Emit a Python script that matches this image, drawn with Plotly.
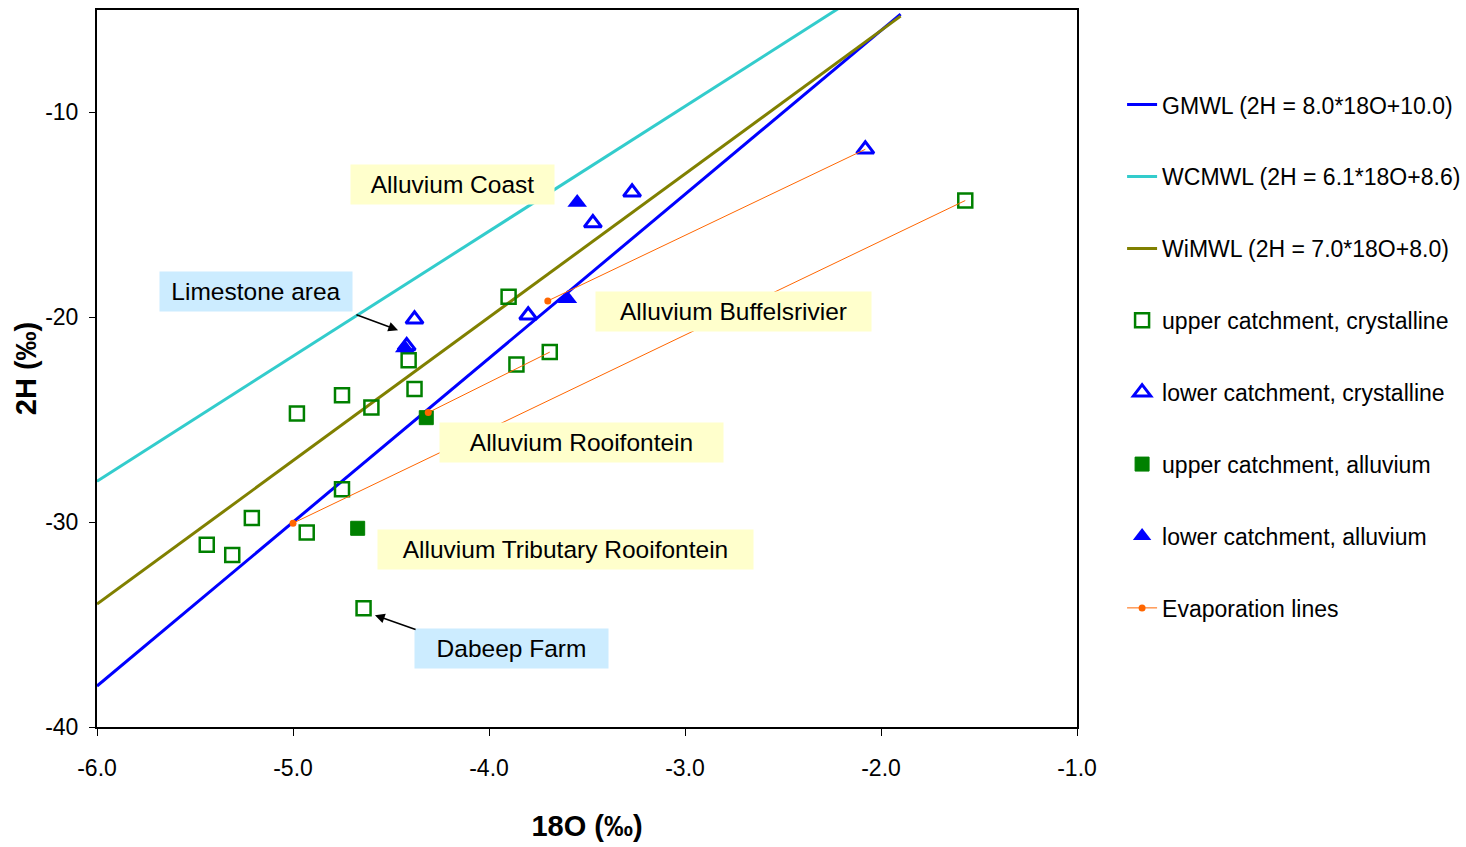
import plotly.graph_objects as go

# Meteoric water lines: 2H = slope * 18O + intercept
mwl_names = ["GMWL (2H = 8.0*18O+10.0)", "WCMWL (2H = 6.1*18O+8.6)", "WiMWL (2H = 7.0*18O+8.0)"]
mwl_slope = [8.0, 6.1, 7.0]
mwl_intercept = [10.0, 8.6, 8.0]
mwl_colors = ["#0000FF", "#33CCCC", "#808000"]
mwl_x = [-6.0, -1.9]

# Sample groups (18O, 2H in permil)
upper_cryst_o18 = [-4.98, -4.75, -4.60, -4.75, -5.21, -5.44, -5.31, -4.93, -4.64,
                   -4.41, -4.38, -3.90, -3.86, -3.69, -1.57]
upper_cryst_h2 = [-24.7, -23.8, -24.4, -28.4, -29.8, -31.1, -31.6, -30.5, -34.2,
                  -22.1, -23.5, -19.0, -22.3, -21.7, -14.3]

lower_cryst_o18 = [-4.38, -4.42, -3.80, -3.47, -3.27, -2.08]
lower_cryst_h2 = [-20.1, -21.4, -19.9, -15.4, -13.9, -11.8]

upper_allu_o18 = [-4.32, -4.67]
upper_allu_h2 = [-24.9, -30.3]

lower_allu_o18 = [-3.55, -3.60, -4.43]
lower_allu_h2 = [-14.4, -19.1, -21.5]

# Evaporation lines: start point -> end point
evap_x0 = [-5.00, -4.31, -3.70]
evap_y0 = [-30.05, -24.65, -19.2]
evap_x1 = [-1.57, -3.69, -2.08]
evap_y1 = [-14.3, -21.7, -11.8]

x_ticks = [-6.0, -5.0, -4.0, -3.0, -2.0, -1.0]
x_tick_text = ["-6.0", "-5.0", "-4.0", "-3.0", "-2.0", "-1.0"]
y_ticks = [-10, -20, -30, -40]
y_tick_text = ["-10", "-20", "-30", "-40"]

FONT = "Liberation Sans, Arial, sans-serif"
ORANGE = "#FF6600"
GREEN = "#008000"
BLUE = "#0000FF"

fig = go.Figure()

for i, (name, m, b, c) in enumerate(zip(mwl_names, mwl_slope, mwl_intercept, mwl_colors)):
    fig.add_trace(go.Scatter(
        x=mwl_x, y=[m * x + b for x in mwl_x], mode="lines", name=name,
        line=dict(color=c, width=3), legendgroup=f"g{i}", legendrank=i + 1,
    ))

fig.add_trace(go.Scatter(
    x=upper_cryst_o18, y=upper_cryst_h2, mode="markers",
    name="upper catchment, crystalline", legendgroup="g3", legendrank=4,
    marker=dict(symbol="square-open", size=14, color=GREEN, line=dict(width=2.5, color=GREEN)),
))
fig.add_trace(go.Scatter(
    x=lower_cryst_o18, y=lower_cryst_h2, mode="markers",
    name="lower catchment, crystalline", legendgroup="g4", legendrank=5,
    marker=dict(symbol="triangle-up-open", size=15, color=BLUE, line=dict(width=3, color=BLUE)),
))
fig.add_trace(go.Scatter(
    x=upper_allu_o18, y=upper_allu_h2, mode="markers",
    name="upper catchment, alluvium", legendgroup="g5", legendrank=6,
    marker=dict(symbol="square", size=14, color=GREEN, line=dict(width=1, color=GREEN)),
))
fig.add_trace(go.Scatter(
    x=lower_allu_o18, y=lower_allu_h2, mode="markers",
    name="lower catchment, alluvium", legendgroup="g6", legendrank=7,
    marker=dict(symbol="triangle-up", size=17, color=BLUE),
))

# Evaporation lines drawn as segments with a dot at the starting point
for k, (xa, ya, xb, yb) in enumerate(zip(evap_x0, evap_y0, evap_x1, evap_y1)):
    fig.add_trace(go.Scatter(
        x=[xa, xb], y=[ya, yb], mode="lines", showlegend=False,
        line=dict(color=ORANGE, width=1), legendgroup="g7",
    ))
fig.add_trace(go.Scatter(
    x=evap_x0, y=evap_y0, mode="markers", showlegend=False, legendgroup="g7",
    marker=dict(symbol="circle", size=7, color=ORANGE),
))
fig.add_trace(go.Scatter(
    x=[None], y=[None], mode="lines+markers", name="Evaporation lines",
    legendgroup="g7", legendrank=8,
    line=dict(color=ORANGE, width=1), marker=dict(symbol="circle", size=7, color=ORANGE),
))

YELLOW_BG = "#FFFFCC"
BLUE_BG = "#CCECFF"

labels = [
    ("Alluvium Coast", -4.184, -13.51, 203, YELLOW_BG),
    ("Limestone area", -5.189, -18.73, 192, BLUE_BG),
    ("Alluvium Buffelsrivier", -2.755, -19.71, 275, YELLOW_BG),
    ("Alluvium Rooifontein", -3.526, -26.10, 283, YELLOW_BG),
    ("Alluvium Tributary Rooifontein", -3.612, -31.32, 375, YELLOW_BG),
    ("Dabeep Farm", -3.883, -36.15, 193, BLUE_BG),
]
for text, x, y, w, bg in labels:
    fig.add_annotation(
        x=x, y=y, xref="x", yref="y", text=text, showarrow=False,
        bgcolor=bg, width=w, height=39, borderpad=0,
        font=dict(family=FONT, size=24.5, color="black"),
    )

# Pointer arrows
arrows = [(-4.464, -20.63, -4.684, -19.85), (-4.582, -34.54, -4.367, -35.27)]
for hx, hy, tx, ty in arrows:
    fig.add_annotation(
        x=hx, y=hy, ax=tx, ay=ty, xref="x", yref="y", axref="x", ayref="y",
        text="", showarrow=True, arrowhead=2, arrowsize=1.3, arrowwidth=1.5,
        arrowcolor="black", standoff=0,
    )

fig.update_layout(
    width=1466, height=847,
    margin=dict(l=97, r=389, t=10, b=120, autoexpand=False),
    paper_bgcolor="white", plot_bgcolor="white",
    font=dict(family=FONT, size=22, color="black"),
    legend=dict(
        x=1.046, y=0.898, xanchor="left", yanchor="top",
        traceorder="grouped", tracegroupgap=39,
        font=dict(family=FONT, size=23, color="black"),
        bgcolor="rgba(0,0,0,0)",
    ),
    xaxis=dict(
        range=[-6.0, -1.0], tickvals=x_ticks, ticktext=x_tick_text,
        showgrid=False, zeroline=False,
        showline=True, mirror=True, linecolor="black", linewidth=2,
        ticks="outside", ticklen=7, tickcolor="black", tickwidth=1,
        tickfont=dict(family=FONT, size=23),
        ticklabelstandoff=12,
        title=dict(text="<b>18O (‰)</b>", font=dict(family=FONT, size=29), standoff=36),
    ),
    yaxis=dict(
        range=[-40, -5], tickvals=y_ticks, ticktext=y_tick_text,
        showgrid=False, zeroline=False,
        showline=True, mirror=True, linecolor="black", linewidth=2,
        ticks="outside", ticklen=6, tickcolor="black", tickwidth=1,
        tickfont=dict(family=FONT, size=23),
        ticklabelstandoff=6,
        title=dict(text="<b>2H (‰)</b>", font=dict(family=FONT, size=29), standoff=0),
    ),
)

fig.write_html("out.html")
